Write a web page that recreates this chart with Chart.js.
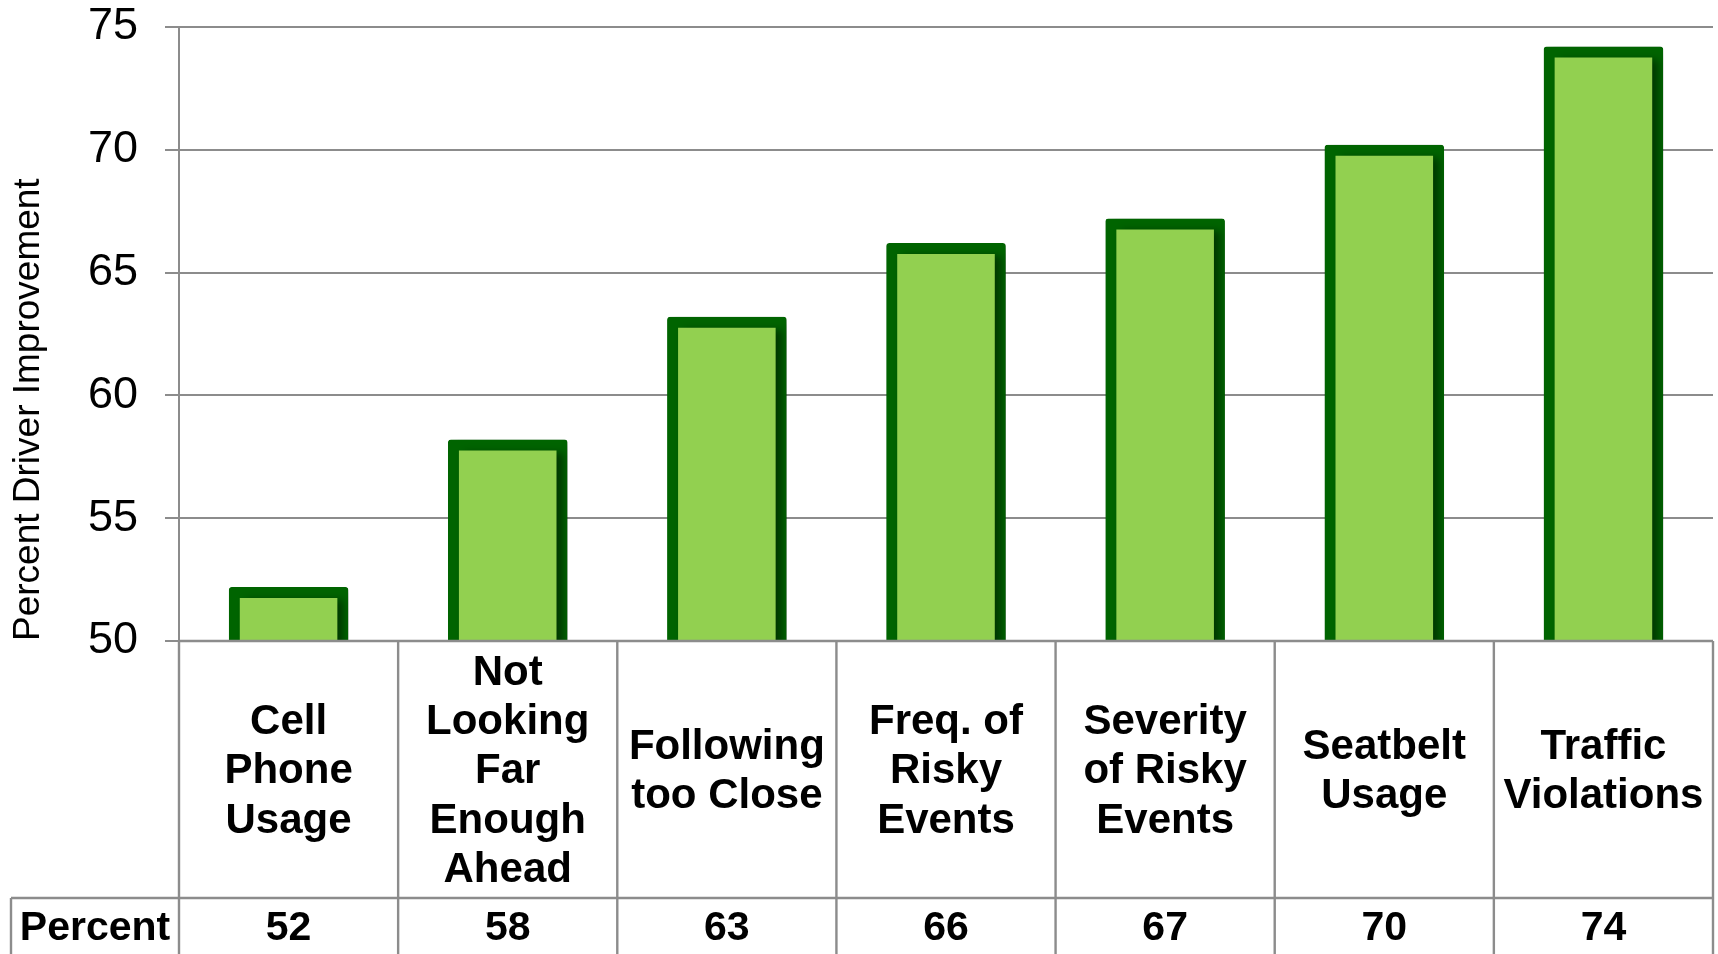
<!DOCTYPE html>
<html>
<head>
<meta charset="utf-8">
<script src="https://cdn.jsdelivr.net/npm/chart.js@4"></script>
<style>
html,body{margin:0;padding:0;background:#fff;}
#wrap{width:1718px;height:954px;position:relative;}
</style>
</head>
<body>
<div id="wrap"><canvas id="c"></canvas></div>
<script>
// ---- data ----
const categories = [
  ["Cell", "Phone", "Usage"],
  ["Not", "Looking", "Far", "Enough", "Ahead"],
  ["Following", "too Close"],
  ["Freq. of", "Risky", "Events"],
  ["Severity", "of Risky", "Events"],
  ["Seatbelt", "Usage"],
  ["Traffic", "Violations"]
];
const values = [52, 58, 63, 66, 67, 70, 74];
const rowLabel = "Percent";
const yTitle = "Percent Driver Improvement";
const yMin = 50;
const yMax = 75;
const yStep = 5;

// ---- styling ----
const FONT = "'Liberation Sans', Arial, Helvetica, sans-serif";
const GRID = '#8c8c8c';

const shadowPlugin = {
  id: 'barShadow',
  beforeDatasetsDraw(chart) {
    const c = chart.ctx;
    c.save();
    c.shadowColor = 'rgba(0,0,0,0.45)';
    c.shadowBlur = 8;
    c.shadowOffsetX = 6;
    c.shadowOffsetY = 2;
  },
  afterDatasetsDraw(chart) {
    chart.ctx.restore();
  }
};

const tablePlugin = {
  id: 'dataTable',
  afterDraw(chart) {
    const ctx = chart.ctx;
    const x = chart.scales.x;
    const area = chart.chartArea;
    const n = values.length;
    const H = chart.height;
    const rowTop = H - 56;
    const tableLeft = 11;
    const cw = (x.right - x.left) / n;
    ctx.save();
    ctx.strokeStyle = GRID;
    ctx.lineWidth = 2.4;
    ctx.beginPath();
    ctx.moveTo(x.left, area.bottom);
    ctx.lineTo(x.right, area.bottom);
    for (let i = 0; i <= n; i++) {
      const px = x.left + i * cw;
      ctx.moveTo(px, area.bottom);
      ctx.lineTo(px, H);
    }
    ctx.moveTo(tableLeft, rowTop);
    ctx.lineTo(x.right, rowTop);
    ctx.moveTo(tableLeft, rowTop);
    ctx.lineTo(tableLeft, H);
    ctx.stroke();

    ctx.fillStyle = '#000';
    ctx.font = 'bold 41px ' + FONT;
    ctx.textAlign = 'center';
    ctx.textBaseline = 'alphabetic';
    ctx.fillText(rowLabel, (tableLeft + x.left) / 2, rowTop + 42);
    for (let i = 0; i < n; i++) {
      ctx.fillText(String(values[i]), x.getPixelForValue(i), rowTop + 42);
    }
    ctx.restore();
  }
};

new Chart(document.getElementById('c'), {
  type: 'bar',
  data: {
    labels: categories,
    datasets: [{
      data: values,
      backgroundColor: '#92d050',
      borderColor: '#006400',
      borderWidth: 11,
      borderSkipped: false,
      borderRadius: 3,
      inflateAmount: 5,
      categoryPercentage: 1.0,
      barPercentage: 0.5,
      clip: {left: false, top: false, right: false, bottom: 0}
    }]
  },
  options: {
    responsive: true,
    maintainAspectRatio: false,
    animation: false,
    devicePixelRatio: 1,
    layout: {padding: {top: 27, right: 5, left: 0, bottom: 0}},
    plugins: {legend: {display: false}, tooltip: {enabled: false}},
    scales: {
      x: {
        offset: true,
        grid: {display: false, drawTicks: true, tickLength: 32},
        border: {display: false},
        ticks: {
          font: {family: FONT, size: 42, weight: 'bold', lineHeight: 1.176},
          color: '#000',
          padding: 0,
          maxRotation: 0,
          minRotation: 0,
          autoSkip: false,
          crossAlign: 'center'
        },
        afterFit(s) { s.height = 313; }
      },
      y: {
        min: yMin,
        max: yMax,
        ticks: {stepSize: yStep, font: {family: FONT, size: 45}, color: '#000', padding: 27},
        grid: {color: GRID, lineWidth: 2, tickLength: 14, drawTicks: true},
        border: {color: GRID, width: 2},
        title: {
          display: true,
          text: yTitle,
          align: 'start',
          color: '#000',
          font: {family: FONT, size: 37},
          padding: {top: 7, bottom: 0}
        },
        afterFit(s) { s.width = 179; s.paddingTop = 0; s.paddingBottom = 0; }
      }
    }
  },
  plugins: [shadowPlugin, tablePlugin]
});
</script>
</body>
</html>
